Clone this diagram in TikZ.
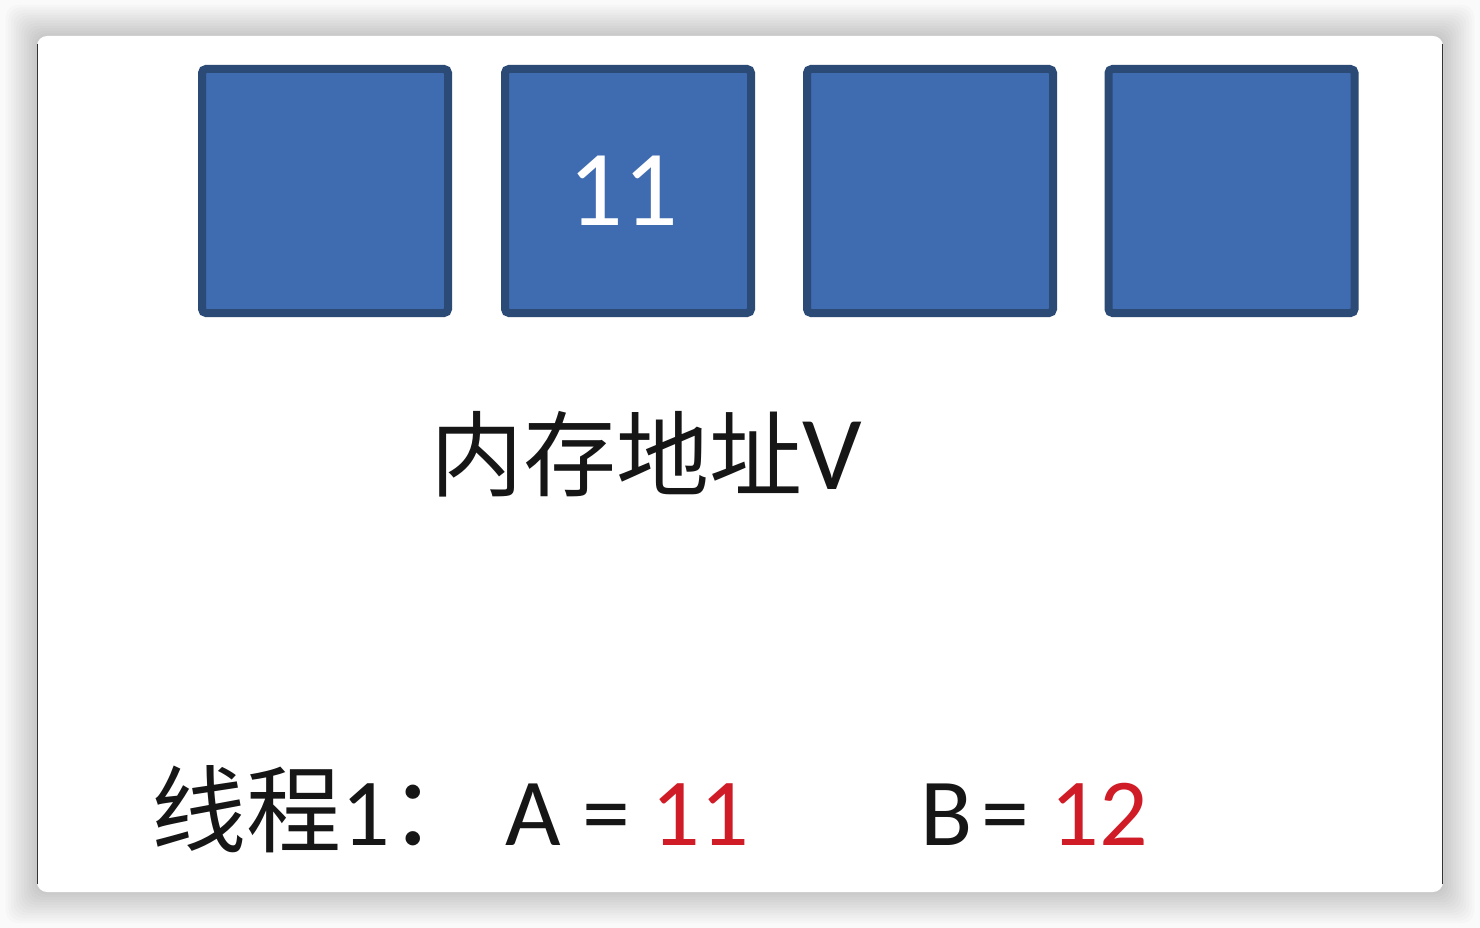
\documentclass[tikz,border=0pt]{standalone}
\usepackage{fontspec}
\setmainfont{Carlito}
\newfontfamily\cjk{Noto Sans CJK SC}
\usepackage{tikz}
\usetikzlibrary{positioning}

\definecolor{cellblue}{RGB}{63,107,176}
\definecolor{cellline}{RGB}{44,74,118}
\definecolor{numred}{RGB}{208,28,38}
\definecolor{txtblack}{RGB}{22,22,22}

\tikzset{
  cell/.style={draw=cellline,fill=cellblue,line width=8pt,minimum width=246pt,
    minimum height=244pt,rounded corners=4pt,inner sep=0pt},
  lbl/.style={anchor=base west,inner sep=0pt,text=txtblack},
}

\begin{document}
\begin{tikzpicture}[x=1pt,y=-1pt]
      \useasboundingbox (0,0) rectangle (1480,928);
      
      %背景和阴影
      \fill[black!2] (0,0) rectangle (1480,928);
      \foreach \d in {1,...,12}  {
      	\fill[black,fill opacity=0.014,rounded corners=12pt] (37-2.6*\d,36-2.6*\d)
      	rectangle (1443+2.6*\d,892+2.6*\d);
      }
      \fill[white,rounded corners=10pt] (37,36) rectangle (1443,892);
      \draw[black!80,line width=1.5pt] (37.5,44) -- (37.5,884);
      \draw[black!80,line width=1.5pt] (1442.5,44) -- (1442.5,884);
      
      %内存单元
      \foreach \i/\x in {1/325,2/628,3/930,4/1231.5}  {
      	\node[cell] (cell\i) at (\x,191) {};
      }
      \node[text=white,font=\fontsize{108}{108}\selectfont,xshift=-5pt] (val) at (cell2) {11};
      
      %文字
      \node[lbl,font=\fontsize{105}{105}\selectfont] (addr) at (430,489)
      	{{\cjk\fontsize{93}{93}\selectfont 内存地址}V};
      \node[lbl,font=\fontsize{96}{96}\selectfont] (thread) at (151,845)
      	{{\cjk\fontsize{95}{95}\selectfont 线程}1{\cjk\fontsize{95}{95}\selectfont ：}};
      \node[lbl,font=\fontsize{96}{96}\selectfont] (varA) at (505,845) {A = \textcolor{numred}{11}};
      \node[lbl,font=\fontsize{96}{96}\selectfont] (varB) at (920,845)
      	{B\hspace{9pt}= \textcolor{numred}{12}};
      
\end{tikzpicture}
\end{document}
